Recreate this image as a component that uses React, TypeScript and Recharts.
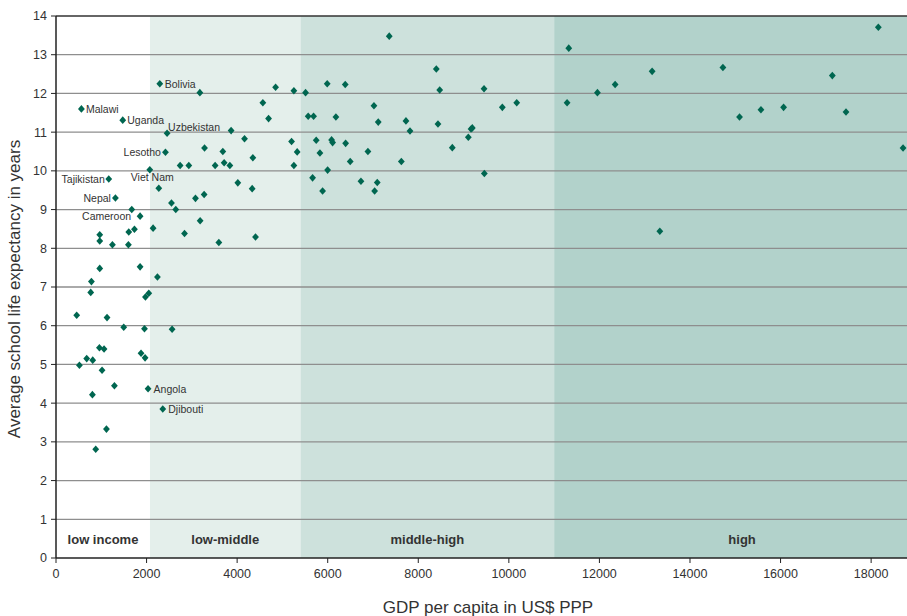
import React from 'react';
import {
  ScatterChart,
  Scatter,
  XAxis,
  YAxis,
  ReferenceArea,
  ReferenceLine,
  Label,
} from 'recharts';

// Labelled countries come first in the value arrays
const labelNames = [
  'Malawi', 'Uganda', 'Bolivia', 'Uzbekistan', 'Lesotho', 'Viet Nam',
  'Tajikistan', 'Nepal', 'Cameroon', 'Angola', 'Djibouti',
];

const gdpPerCapita = [
  561, 1474, 2292, 2453, 2417, 2071, 1165, 1312, 1857, 2033, 2358,
  3177, 1673, 966, 966, 1246, 1607, 1732, 1599, 2144, 966, 1857, 2240, 782, 767,
  1975, 2049, 2270, 2550, 2645, 2741, 2933, 2838, 3080, 3183, 3271, 3280, 3514,
  3684, 3713, 3839, 3867, 3596, 4015, 4163, 4332, 4347, 4406, 4568, 4694, 4849,
  5202, 5326, 5253, 5253, 5511, 5569, 5688, 5989, 6387, 6181, 5746, 6086, 6108,
  6396, 5828, 6497, 5666, 5998, 5887, 6734, 6888, 7021, 7116, 7094, 7036, 7359,
  7728, 7817, 7626, 8398, 8473, 8435, 8751, 9105, 9165, 9193, 9452, 9459, 9856,
  10174, 11323, 11286, 11956, 12347, 13164, 13334, 14727, 15094, 15567, 16067,
  17143, 17445, 18159, 18705,
  457, 1127, 1496, 1954, 2564, 959, 1061, 1878, 1967, 678, 811, 517, 1017, 1290,
  804, 1114, 877,
];

const schoolLifeExpectancy = [
  11.6, 11.31, 12.25, 10.97, 10.48, 10.03, 9.79, 9.3, 8.83, 4.37, 3.85,
  12.02, 9.0, 8.35, 8.19, 8.09, 8.42, 8.49, 8.09, 8.52, 7.48, 7.52, 7.26, 7.14, 6.86,
  6.74, 6.84, 9.55, 9.17, 9.0, 10.14, 10.14, 8.38, 9.29, 8.71, 9.39, 10.59, 10.14,
  10.5, 10.21, 10.14, 11.04, 8.15, 9.69, 10.83, 9.54, 10.34, 8.29, 11.76, 11.35, 12.16,
  10.76, 10.49, 10.14, 12.07, 12.02, 11.41, 11.41, 12.25, 12.23, 11.39, 10.79, 10.8, 10.73,
  10.71, 10.46, 10.24, 9.82, 10.02, 9.48, 9.73, 10.5, 11.68, 11.26, 9.7, 9.48, 13.48,
  11.29, 11.03, 10.24, 12.63, 12.09, 11.21, 10.6, 10.87, 11.08, 11.11, 12.12, 9.93, 11.64,
  11.76, 13.17, 11.76, 12.02, 12.23, 12.57, 8.44, 12.67, 11.39, 11.58, 11.64,
  12.46, 11.52, 13.71, 10.59,
  6.27, 6.21, 5.96, 5.92, 5.91, 5.43, 5.4, 5.29, 5.17, 5.15, 5.11, 4.98, 4.85, 4.45,
  4.22, 3.33, 2.81,
];

const xTicks = [0, 2000, 4000, 6000, 8000, 10000, 12000, 14000, 16000, 18000];
const yTicks = [0, 1, 2, 3, 4, 5, 6, 7, 8, 9, 10, 11, 12, 13, 14];
const gridValues = [1, 2, 3, 4, 5, 6, 7, 8, 9, 10, 11, 12, 13];

const bandNames = ['low income', 'low-middle', 'middle-high', 'high'];
const bandStarts = [0, 2075, 5400, 11000];
const bandEnds = [2075, 5400, 11000, 19300];

// ---- styles (kept apart from the data) ----
const FONT = '"Liberation Sans", Arial, Helvetica, sans-serif';
const MARKER = '#006650';
const bandFills = ['#ffffff', '#e4efeb', '#cde1dc', '#b2d2cb'];
const labelStyles: Record<string, { dx: number; dy: number; anchor: string }> = {
  Malawi: { dx: 4.5, dy: 0, anchor: 'start' },
  Uganda: { dx: 4.5, dy: 0, anchor: 'start' },
  Bolivia: { dx: 5, dy: 0, anchor: 'start' },
  Angola: { dx: 5.5, dy: 0, anchor: 'start' },
  Djibouti: { dx: 5.5, dy: 0, anchor: 'start' },
  Lesotho: { dx: -4.5, dy: 0, anchor: 'end' },
  Tajikistan: { dx: -4, dy: 0, anchor: 'end' },
  Nepal: { dx: -4.5, dy: 0, anchor: 'end' },
  Cameroon: { dx: -9, dy: 0, anchor: 'end' },
  'Viet Nam': { dx: 2.5, dy: 7.5, anchor: 'middle' },
  Uzbekistan: { dx: 1, dy: -6, anchor: 'start' },
};

const points = gdpPerCapita.map((g, i) => ({
  gdp: g,
  sle: schoolLifeExpectancy[i],
  name: i < labelNames.length ? labelNames[i] : '',
}));

const renderPoint = (props: any) => {
  const { cx, cy, payload } = props;
  if (cx == null || cy == null) return <g />;
  const st = payload && payload.name ? labelStyles[payload.name] : null;
  return (
    <g>
      <path
        d={`M${cx},${cy - 3.8}L${cx + 3.4},${cy}L${cx},${cy + 3.8}L${cx - 3.4},${cy}Z`}
        fill={MARKER}
      />
      {st && (
        <text
          x={cx + st.dx}
          y={cy + st.dy}
          textAnchor={st.anchor as any}
          dominantBaseline="central"
          fontSize={10.5}
          fontFamily={FONT}
          fill="#333"
        >
          {payload.name}
        </text>
      )}
    </g>
  );
};

const renderXTitle = () => (
  <text x={488} y={613} textAnchor="middle" fontSize={17} fontFamily={FONT} fill="#333">
    GDP per capita in US$ PPP
  </text>
);

const renderYTitle = () => (
  <text
    x={19.5}
    y={289}
    transform="rotate(-90 19.5 289)"
    textAnchor="middle"
    fontSize={17}
    fontFamily={FONT}
    fill="#333"
  >
    Average school life expectancy in years
  </text>
);

export default function App() {
  return (
    <div
      style={{
        position: 'absolute',
        left: 0,
        top: 0,
        width: 907,
        height: 616,
        overflow: 'hidden',
        background: '#fff',
      }}
    >
      <ScatterChart
        width={930}
        height={616}
        margin={{ top: 16, right: 0, bottom: 28, left: 0 }}
        style={{ fontFamily: FONT }}
      >
        {bandNames.map((b, i) => (
          <ReferenceArea
            key={b}
            x1={bandStarts[i]}
            x2={bandEnds[i]}
            y1={0}
            y2={14}
            fill={bandFills[i]}
            fillOpacity={1}
            stroke="none"
            ifOverflow="hidden"
            label={{
              value: b,
              position: 'insideBottom',
              offset: 14,
              fill: '#333',
              fontSize: 13,
              fontWeight: 'bold',
              fontFamily: FONT,
            }}
          />
        ))}
        {gridValues.map((v) => (
          <ReferenceLine key={v} y={v} stroke="#8e8e8e" strokeWidth={1.3} />
        ))}
        <ReferenceLine y={14} stroke="#333" strokeWidth={1.5} />
        <XAxis
          type="number"
          dataKey="gdp"
          domain={[0, 19300]}
          ticks={xTicks}
          allowDataOverflow
          height={30}
          tickSize={5}
          tickMargin={6}
          tick={{ fontSize: 12.5, fill: '#333', fontFamily: FONT }}
          tickLine={{ stroke: '#222' }}
          axisLine={{ stroke: '#222', strokeWidth: 1.5 }}
          label={<Label content={renderXTitle} />}
        />
        <YAxis
          type="number"
          dataKey="sle"
          domain={[0, 14]}
          ticks={yTicks}
          allowDataOverflow
          width={56}
          tickSize={5}
          tickMargin={4}
          tick={{ fontSize: 12.5, fill: '#333', fontFamily: FONT }}
          tickLine={{ stroke: '#222' }}
          axisLine={{ stroke: '#222', strokeWidth: 1.5 }}
          label={<Label content={renderYTitle} />}
        />
        <Scatter data={points} shape={renderPoint} isAnimationActive={false} />
      </ScatterChart>
    </div>
  );
}
